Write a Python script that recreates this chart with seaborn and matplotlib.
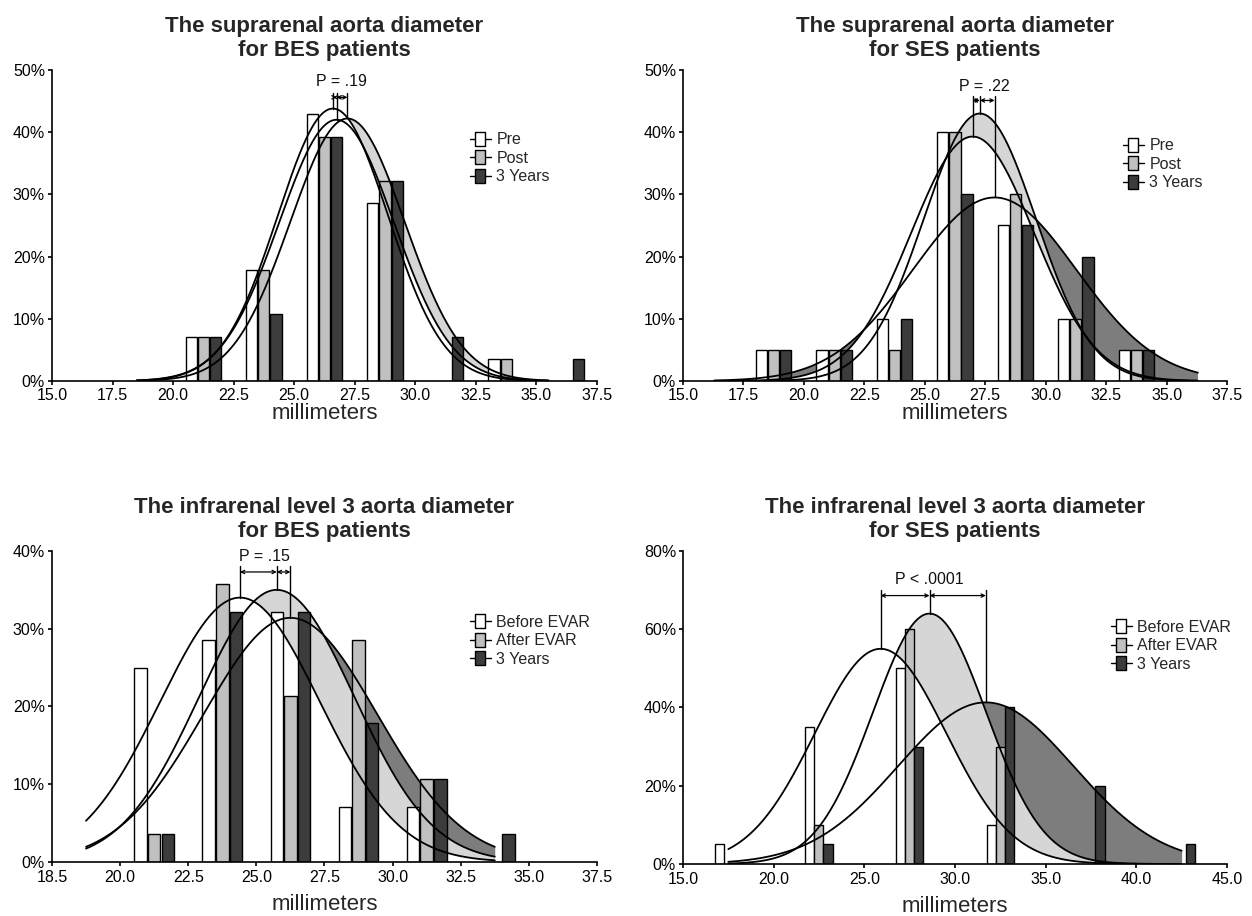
import numpy as np
import pandas as pd
import matplotlib
matplotlib.use("Agg")
import matplotlib.pyplot as plt
from matplotlib.lines import Line2D
import seaborn as sns

# ------------------------------------------------------------------ data
labels_top = ["Pre", "Post", "3 Years"]
labels_bottom = ["Before EVAR", "After EVAR", "3 Years"]

titles = [
    "The suprarenal aorta diameter\nfor BES patients",
    "The suprarenal aorta diameter\nfor SES patients",
    "The infrarenal level 3 aorta diameter\nfor BES patients",
    "The infrarenal level 3 aorta diameter\nfor SES patients",
]
p_texts = ["P = .19", "P = .22", "P = .15", "P < .0001"]
x_label = "millimeters"

# Panel 1: suprarenal, BES (percent of patients per bin)
p1_bins = [21.25, 23.75, 26.25, 28.75, 31.25, 33.75, 36.25]
p1_pre = [7.1, 17.9, 42.9, 28.6, 0, 3.6, 0]
p1_post = [7.1, 17.9, 39.3, 32.1, 0, 3.6, 0]
p1_3y = [7.1, 10.7, 39.3, 32.1, 7.1, 0, 3.6]
p1_mean = [26.6, 26.75, 27.2]
p1_sd = [2.28, 2.37, 2.36]
p1_peak = [43.8, 42.0, 42.2]

# Panel 2: suprarenal, SES
p2_bins = [18.75, 21.25, 23.75, 26.25, 28.75, 31.25, 33.75]
p2_pre = [5, 5, 10, 40, 25, 10, 5]
p2_post = [5, 5, 5, 40, 30, 10, 5]
p2_3y = [5, 5, 10, 30, 25, 20, 5]
p2_mean = [26.98, 27.28, 27.89]
p2_sd = [2.54, 2.32, 3.38]
p2_peak = [39.3, 43.0, 29.5]

# Panel 3: infrarenal level 3, BES
p3_bins = [21.25, 23.75, 26.25, 28.75, 31.25, 33.75]
p3_pre = [25.0, 28.6, 32.1, 7.1, 7.1, 0]
p3_post = [3.6, 35.7, 21.4, 28.6, 10.7, 0]
p3_3y = [3.6, 32.1, 32.1, 17.9, 10.7, 3.6]
p3_mean = [24.4, 25.75, 26.25]
p3_sd = [2.93, 2.85, 3.18]
p3_peak = [34.0, 35.0, 31.4]

# Panel 4: infrarenal level 3, SES
p4_bins = [17.5, 22.5, 27.5, 32.5, 37.5, 42.5]
p4_pre = [5, 35, 50, 10, 0, 0]
p4_post = [0, 10, 60, 30, 0, 0]
p4_3y = [0, 5, 30, 40, 20, 5]
p4_mean = [25.9, 28.6, 31.7]
p4_sd = [3.63, 3.12, 4.83]
p4_peak = [55.0, 64.0, 41.3]

# axis ticks
p12_xticks = [15.0, 17.5, 20.0, 22.5, 25.0, 27.5, 30.0, 32.5, 35.0, 37.5]
p12_xticklabels = ["15.0", "17.5", "20.0", "22.5", "25.0", "27.5", "30.0", "32.5", "35.0", "37.5"]
p3_xticks = [17.5, 20.0, 22.5, 25.0, 27.5, 30.0, 32.5, 35.0, 37.5]
p3_xticklabels = ["18.5", "20.0", "22.5", "25.0", "27.5", "30.0", "32.5", "35.0", "37.5"]
p4_xticks = [15.0, 20.0, 25.0, 30.0, 35.0, 40.0, 45.0]
p4_xticklabels = ["15.0", "20.0", "25.0", "30.0", "35.0", "40.0", "45.0"]
p12_yticks = [0, 10, 20, 30, 40, 50]
p3_yticks = [0, 10, 20, 30, 40]
p4_yticks = [0, 20, 40, 60, 80]

# ------------------------------------------------------------------ style
sns.set_style("ticks")
plt.rcParams["font.family"] = ["Liberation Sans", "DejaVu Sans"]

BAR_COLORS = ["#ffffff", "#c0c0c0", "#3c3c3c"]
LIGHT = "#d6d6d6"
DARK = "#7d7d7d"
OFFSETS = [-0.5, 0.0, 0.5]

fig = plt.figure(figsize=(12.52, 9.16), dpi=100)

panels = [
    dict(rect=[0.0415, 0.5841, 0.4353, 0.3395], bins=p1_bins, vals=[p1_pre, p1_post, p1_3y],
         names=labels_top, mean=p1_mean, sd=p1_sd, peak=p1_peak, crange=(18.5, 35.5),
         fills=(None, LIGHT), xlim=(15, 37.5), xticks=p12_xticks, xtl=p12_xticklabels,
         ylim=(0, 50), yticks=p12_yticks, top=46.3, arrow_y=45.6, text_xy=(26.95, 48.2),
         leg=(0.767, 0.80), bw=0.92, xpad=2, lpad=0),
    dict(rect=[0.5455, 0.5841, 0.4345, 0.3395], bins=p2_bins, vals=[p2_pre, p2_post, p2_3y],
         names=labels_top, mean=p2_mean, sd=p2_sd, peak=p2_peak, crange=(16.3, 36.3),
         fills=(LIGHT, DARK), xlim=(15, 37.5), xticks=p12_xticks, xtl=p12_xticklabels,
         ylim=(0, 50), yticks=p12_yticks, top=45.8, arrow_y=45.1, text_xy=(27.45, 47.4),
         leg=(0.809, 0.78), bw=0.92, xpad=2, lpad=0),
    dict(rect=[0.0415, 0.0590, 0.4353, 0.3395], bins=p3_bins, vals=[p3_pre, p3_post, p3_3y],
         names=labels_bottom, mean=p3_mean, sd=p3_sd, peak=p3_peak, crange=(18.75, 33.75),
         fills=(LIGHT, DARK), xlim=(17.5, 37.5), xticks=p3_xticks, xtl=p3_xticklabels,
         ylim=(0, 40), yticks=p3_yticks, top=38.1, arrow_y=37.3, text_xy=(25.3, 39.3),
         leg=(0.767, 0.795), bw=0.92, xpad=2.5, lpad=7),
    dict(rect=[0.5455, 0.0568, 0.4345, 0.3417], bins=p4_bins, vals=[p4_pre, p4_post, p4_3y],
         names=labels_bottom, mean=p4_mean, sd=p4_sd, peak=p4_peak, crange=(17.5, 42.5),
         fills=(LIGHT, DARK), xlim=(15, 45), xticks=p4_xticks, xtl=p4_xticklabels,
         ylim=(0, 80), yticks=p4_yticks, top=70.0, arrow_y=68.6, text_xy=(28.6, 72.6),
         leg=(0.787, 0.78), bw=1.0, xpad=2.5, lpad=7),
]

BOX = [(-0.35, -0.5), (0.35, -0.5), (0.35, 0.5), (-0.35, 0.5), (-0.35, -0.5)]

for i, P in enumerate(panels):
    ax = fig.add_axes(P["rect"])

    # ---- bars (seaborn, native numeric scale)
    rows = []
    for k, (name, vals) in enumerate(zip(P["names"], P["vals"])):
        for b, h in zip(P["bins"], vals):
            if h > 0:
                rows.append({"pos": b + OFFSETS[k], "pct": h, "series": name})
    df = pd.DataFrame(rows)
    sns.barplot(data=df, x="pos", y="pct", hue="series", hue_order=P["names"],
                palette=dict(zip(P["names"], BAR_COLORS)), native_scale=True,
                dodge=False, width=P["bw"], errorbar=None, saturation=1,
                edgecolor="black", linewidth=1.0, legend=False, ax=ax)
    for patch in ax.patches:
        patch.set_zorder(2)

    # ---- fitted normal curves
    xs = np.linspace(P["crange"][0], P["crange"][1], 400)
    curves = [pk * np.exp(-0.5 * ((xs - m) / s) ** 2)
              for m, s, pk in zip(P["mean"], P["sd"], P["peak"])]
    pre, post, y3 = curves
    mid_c, top_c = P["fills"]
    if mid_c is not None:
        ax.fill_between(xs, pre, post, where=post > pre, interpolate=True,
                        color=mid_c, lw=0, zorder=0.5)
    upper = np.maximum(pre, post)
    ax.fill_between(xs, upper, y3, where=y3 > upper, interpolate=True,
                    color=top_c, lw=0, zorder=0.5)
    for c in curves:
        sns.lineplot(x=xs, y=c, color="black", lw=1.3, ax=ax, zorder=3)

    # ---- mean markers and P annotation
    for m, pk in zip(P["mean"], P["peak"]):
        ax.plot([m, m], [pk, P["top"]], color="black", lw=1.0, zorder=3)
    for a, b in zip(P["mean"][:-1], P["mean"][1:]):
        ax.annotate("", xy=(b, P["arrow_y"]), xytext=(a, P["arrow_y"]),
                    arrowprops=dict(arrowstyle="<->", lw=0.9, color="black",
                                    shrinkA=0, shrinkB=0, mutation_scale=6),
                    zorder=3)
    ax.text(P["text_xy"][0], P["text_xy"][1], p_texts[i], ha="center", va="center",
            fontsize=11.5, color="#111111")

    # ---- axes
    ax.set_xlim(*P["xlim"])
    ax.set_ylim(*P["ylim"])
    ax.set_xticks(P["xticks"])
    ax.set_xticklabels(P["xtl"])
    ax.set_yticks(P["yticks"])
    ax.set_yticklabels([f"{v}%" for v in P["yticks"]])
    ax.set_xlabel(x_label, fontsize=16, labelpad=P["lpad"])
    ax.set_ylabel("")
    ax.set_title(titles[i], fontsize=16, fontweight="bold", pad=10)
    sns.despine(ax=ax)
    for sp in ("left", "bottom"):
        ax.spines[sp].set_linewidth(1.2)
        ax.spines[sp].set_color("black")
    ax.tick_params(axis="both", direction="out", length=3, width=1.2, colors="black",
                   labelsize=11.5)
    ax.tick_params(axis="x", pad=P["xpad"])
    ax.tick_params(axis="y", pad=2)
    ax.set_facecolor("white")

    # ---- legend
    handles = [Line2D([0, 1], [0, 0], color="black", lw=1.0, marker=BOX, markersize=10,
                      markerfacecolor=c, markeredgecolor="black", markeredgewidth=1.0)
               for c in BAR_COLORS]
    ax.legend(handles, P["names"], loc="upper left", bbox_to_anchor=P["leg"],
              frameon=False, fontsize=11.5, handlelength=1.3, handletextpad=0.35,
              labelspacing=0.22, borderpad=0, borderaxespad=0, numpoints=1)

fig.savefig("out.png", dpi=100, facecolor="white")
